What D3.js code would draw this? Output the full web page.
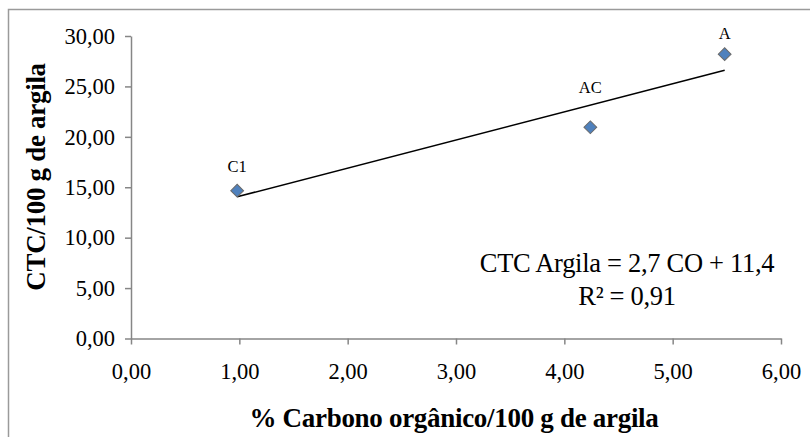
<!DOCTYPE html>
<html>
<head>
<meta charset="utf-8">
<script src="https://cdn.jsdelivr.net/npm/d3@7"></script>
<style>
  html, body { margin: 0; padding: 0; background: #fff; }
  svg { display: block; }
</style>
</head>
<body>
<div id="chart"></div>
<script>
// data
const pointLabels = ["C1", "AC", "A"];
const carbonValues = [0.98, 4.24, 5.48];
const ctcValues = [14.66, 20.95, 28.2];
const xTicks = [0, 1, 2, 3, 4, 5, 6];
const yTicks = [0, 5, 10, 15, 20, 25, 30];
const equationLines = ["CTC Argila = 2,7 CO + 11,4", "R\u00b2 = 0,91"];

const FONT = "Liberation Serif";

const COLORS = {
  frame: "#9a9a9a",
  axis: "#868686",
  marker: "#4f81bd",
  markerStroke: "#6b6b6b",
  text: "#000000",
};

// label placement above each marker (the AC label sits above the trend line)
const LABEL_DY = { C1: -19, AC: -34, A: -15 };

const width = 810;
const height = 437;
const plot = { left: 131, right: 781, top: 36, bottom: 338.5 };

const svg = d3.select("#chart")
  .append("svg")
  .attr("width", width)
  .attr("height", height)
  .attr("font-family", FONT);

// outer chart frame (only top and left visible in the crop)
svg.append("path")
  .attr("d", `M8.5,${height} L8.5,9.5 L${width},9.5`)
  .attr("fill", "none")
  .attr("stroke", COLORS.frame)
  .attr("stroke-width", 1.5);

const x = d3.scaleLinear().domain([0, 6]).range([plot.left, plot.right]);
const y = d3.scaleLinear().domain([0, 30]).range([plot.bottom, plot.top]);

const fmt = (v) => d3.format(".2f")(v).replace(".", ",");

const xAxis = d3.axisBottom(x).tickValues(xTicks).tickFormat(fmt).tickSizeInner(6).tickSizeOuter(0).tickPadding(19);
const yAxis = d3.axisLeft(y).tickValues(yTicks).tickFormat(fmt).tickSizeInner(6).tickSizeOuter(0).tickPadding(10);

const styleAxis = (g) => {
  g.attr("font-family", FONT).attr("font-size", 22.5);
  g.select(".domain").attr("stroke", COLORS.axis).attr("stroke-width", 1.5);
  g.selectAll(".tick line").attr("stroke", COLORS.axis).attr("stroke-width", 1.5);
  g.selectAll(".tick text")
    .attr("fill", COLORS.text)
    .attr("font-family", FONT)
    .attr("font-size", 22.5);
};

svg.append("g")
  .attr("transform", `translate(0,${plot.bottom})`)
  .call(xAxis)
  .call(styleAxis);

svg.append("g")
  .attr("transform", `translate(${plot.left},0)`)
  .call(yAxis)
  .call(styleAxis);

// linear trend line (least squares over the points)
const meanX = d3.mean(carbonValues);
const meanY = d3.mean(ctcValues);
const sxy = d3.sum(carbonValues, (v, i) => (v - meanX) * (ctcValues[i] - meanY));
const sxx = d3.sum(carbonValues, (v) => (v - meanX) ** 2);
const slope = sxy / sxx;
const intercept = meanY - slope * meanX;
const xMin = d3.min(carbonValues);
const xMax = d3.max(carbonValues);

svg.append("line")
  .attr("x1", x(xMin))
  .attr("y1", y(slope * xMin + intercept))
  .attr("x2", x(xMax))
  .attr("y2", y(slope * xMax + intercept))
  .attr("stroke", "#000")
  .attr("stroke-width", 1.5);

const points = pointLabels.map((label, i) => ({ label, cx: carbonValues[i], cy: ctcValues[i] }));

const diamond = d3.symbol().type(d3.symbolSquare).size(82);

svg.append("g")
  .selectAll("path")
  .data(points)
  .join("path")
  .attr("d", diamond)
  .attr("transform", (d) => `translate(${x(d.cx)},${y(d.cy)}) rotate(45)`)
  .attr("fill", COLORS.marker)
  .attr("stroke", COLORS.markerStroke)
  .attr("stroke-width", 1);

svg.append("g")
  .selectAll("text")
  .data(points)
  .join("text")
  .attr("x", (d) => x(d.cx))
  .attr("y", (d) => y(d.cy) + LABEL_DY[d.label])
  .attr("text-anchor", "middle")
  .attr("fill", COLORS.text)
  .attr("font-family", FONT)
  .attr("font-size", 16.5)
  .text((d) => d.label);

// equation
svg.append("g")
  .selectAll("text")
  .data(equationLines)
  .join("text")
  .attr("x", 627)
  .attr("y", (d, i) => 272 + i * 32.5)
  .attr("text-anchor", "middle")
  .attr("fill", COLORS.text)
  .attr("font-family", FONT)
  .attr("font-size", 26.5)
  .attr("letter-spacing", -0.3)
  .text((d) => d);

// axis titles
svg.append("text")
  .attr("x", 454)
  .attr("y", 427)
  .attr("text-anchor", "middle")
  .attr("fill", COLORS.text)
  .attr("font-family", FONT)
  .attr("font-size", 27)
  .attr("font-weight", "bold")
  .attr("letter-spacing", -0.3)
  .text("% Carbono orgânico/100 g de argila");

svg.append("text")
  .attr("transform", "translate(45,177) rotate(-90)")
  .attr("text-anchor", "middle")
  .attr("fill", COLORS.text)
  .attr("font-family", FONT)
  .attr("font-size", 27)
  .attr("font-weight", "bold")
  .attr("letter-spacing", -0.3)
  .text("CTC/100 g de argila");
</script>
</body>
</html>
